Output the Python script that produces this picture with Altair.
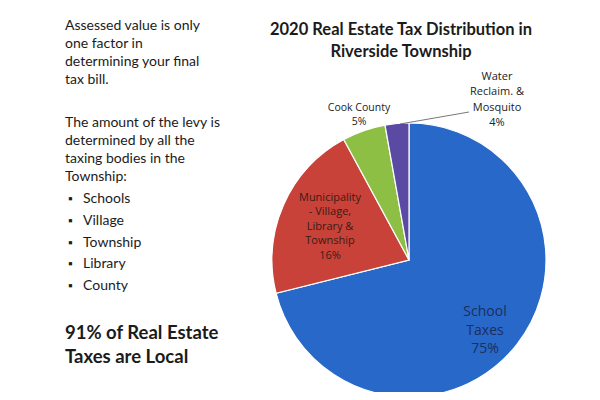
import altair as alt
import pandas as pd

categories = ["School Taxes", "Municipality", "Cook County", "Water Reclaim."]
shares = [71.1, 21.0, 5.1, 2.8]
printed_pct = ["75%", "16%", "5%", "4%"]
colors = ["#2768c9", "#c8423a", "#8dbf45", "#5a4aa4"]

title_lines = ["2020 Real Estate Tax Distribution in", "Riverside Township"]
para1 = ["Assessed value is only", "one factor in", "determining your final", "tax bill."]
para2 = ["The amount of the levy is", "determined by all the", "taxing bodies in the", "Township:"]
bullets = ["Schools", "Village", "Township", "Library", "County"]
headline = ["91% of Real Estate", "Taxes are Local"]

FONT = "Lato"
LFONT = "Open Sans"
OX, OY = 8, 8  # page margin

pie_df = pd.DataFrame({"cat": categories, "share": shares, "order": list(range(len(categories)))})

cx, cy, R = 409 - OX, 260 - OY, 137

pie = alt.Chart(pie_df).mark_arc(stroke="white", strokeWidth=1.2, radius=R).encode(
    theta=alt.Theta("share:Q", stack=True),
    order=alt.Order("order:Q"),
    color=alt.Color("cat:N", scale=alt.Scale(domain=categories, range=colors), legend=None),
    x=alt.value(cx),
    y=alt.value(cy),
)

base = alt.Chart(pd.DataFrame({"a": [0]}))

def txt(lines, x, y, size, weight="normal", align="left", color="#1b1b1b", lh=None, font=FONT):
    kw = dict(align=align, baseline="middle", fontSize=size, fontWeight=weight, color=color, font=font)
    if lh is not None:
        kw["lineHeight"] = lh
    return base.mark_text(**kw).encode(
        x=alt.value(x - OX), y=alt.value(y - OY), text=alt.value(lines)
    )

layers = [pie]
layers.append(txt(title_lines, 401, 30, 16.5, weight="bold", align="center", lh=22))
layers.append(txt(para1, 65, 26, 14, lh=18))
layers.append(txt(para2, 65, 123, 14, lh=18))
layers.append(txt(bullets, 83, 199, 14, lh=21.8))
layers.append(txt(["\u25aa"] * len(bullets), 68, 199, 12, lh=21.8))
layers.append(txt(headline, 65, 333, 18.5, weight="bold", lh=24))

# slice labels
layers.append(txt(["School", "Taxes", printed_pct[0]], 485, 312, 14, align="center", color="#1d2f5c",
                  lh=18.5, font=LFONT))
layers.append(txt(["Municipality", "- Village,", "Library &", "Township", printed_pct[1]], 330, 198, 11,
                  align="center", color="#3a1c14", lh=14.4, font=LFONT))
layers.append(txt(["Cook County", printed_pct[2]], 359, 108, 10.5, align="center", color="#222222",
                  lh=13.5, font=LFONT))
layers.append(txt(["Water", "Reclaim. &", "Mosquito", printed_pct[3]], 497, 77, 11, align="center",
                  color="#222222", lh=15.3, font=LFONT))

leader = base.mark_rule(color="#555555", strokeWidth=0.8).encode(
    x=alt.value(400 - OX), y=alt.value(124 - OY), x2=alt.value(469 - OX), y2=alt.value(112 - OY)
)
layers.append(leader)

chart = alt.layer(*layers).properties(
    width=584, height=384, padding=0, autosize=alt.AutoSizeParams(type="none")
).configure_view(stroke=None)

chart.save("out.html", embed_options={"renderer": "svg", "actions": False})
